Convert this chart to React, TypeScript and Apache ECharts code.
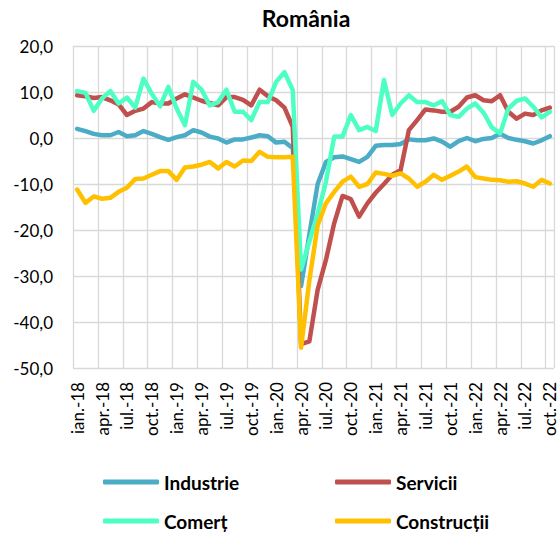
import React, { useEffect, useRef } from "react";
import * as echarts from "echarts";

const monthNames = ["ian.", "feb.", "mar.", "apr.", "mai", "iun.", "iul.", "aug.", "sep.", "oct.", "nov.", "dec."];
const years = ["18", "19", "20", "21", "22"];
const categories: string[] = [];
years.forEach((y) => monthNames.forEach((m) => categories.push(`${m}-${y}`)));
categories.splice(58);

const industrie = [
  2.0, 1.5, 0.9, 0.6, 0.6, 1.3, 0.4, 0.6, 1.5, 0.9, 0.2, -0.4,
  0.2, 0.6, 1.7, 1.2, 0.3, -0.1, -1.0, -0.3, -0.3, 0.1, 0.6, 0.4,
  -1.0, -0.8, -2.2, -32.2, -21.0, -10.0, -5.2, -4.2, -4.0, -4.6, -5.2, -4.1,
  -1.7, -1.5, -1.5, -1.3, -0.3, -0.5, -0.5, -0.1, -0.8, -1.9, -0.7, 0.0,
  -0.7, -0.2, 0.0, 0.9, 0.0, -0.4, -0.7, -1.2, -0.5, 0.4,
];
const servicii = [
  9.3, 9.1, 8.7, 8.9, 8.2, 7.3, 5.0, 5.9, 6.4, 7.8, 7.5, 7.5,
  8.6, 9.5, 8.8, 8.1, 7.6, 7.1, 8.9, 8.9, 8.3, 7.1, 10.5, 9.1,
  8.2, 6.6, 2.4, -44.8, -44.2, -33.0, -26.5, -18.5, -12.6, -13.3, -17.1, -14.2,
  -11.9, -10.0, -8.0, -7.0, 1.7, 3.9, 6.2, 6.0, 5.7, 5.7, 6.8, 8.8,
  9.3, 8.2, 8.0, 9.3, 5.7, 4.2, 5.3, 5.0, 6.0, 6.6,
];
const comert = [
  10.2, 9.8, 5.9, 8.6, 10.2, 7.5, 8.8, 6.6, 12.9, 9.6, 6.9, 11.1,
  6.4, 2.8, 12.2, 10.5, 7.1, 7.8, 10.5, 5.7, 5.7, 3.9, 7.8, 7.8,
  12.2, 14.3, 10.4, -28.6, -22.5, -16.5, -9.5, 0.3, 0.3, 5.0, 1.7, 2.4,
  1.5, 12.6, 5.0, 7.5, 9.3, 7.8, 7.8, 7.1, 8.0, 5.0, 4.6, 6.4,
  7.5, 5.5, 2.3, 1.0, 6.4, 8.1, 8.6, 6.8, 4.5, 5.7,
];
const constructii = [
  -11.2, -14.1, -12.7, -13.2, -13.0, -11.7, -10.8, -8.9, -8.8, -8.0, -7.2, -7.2,
  -9.1, -6.4, -6.2, -5.8, -5.2, -6.6, -5.2, -6.2, -4.9, -5.0, -3.0, -4.1,
  -4.2, -4.2, -4.1, -45.6, -31.0, -19.0, -14.2, -11.7, -9.5, -8.4, -10.6, -10.0,
  -7.5, -7.8, -8.2, -7.7, -8.8, -10.6, -9.5, -8.0, -9.1, -8.2, -7.3, -6.2,
  -8.5, -8.8, -9.1, -9.2, -9.5, -9.4, -9.9, -10.6, -9.1, -9.9,
];

const seriesNames = ["Industrie", "Servicii", "Comerț", "Construcții"];
const seriesColors = ["#4BACC6", "#C0504D", "#4DFFC3", "#FFC000"];
const seriesData = [industrie, servicii, comert, constructii];

const FONT = "Lato, 'Noto Sans', sans-serif";

export default function App() {
  const ref = useRef<HTMLDivElement>(null);
  useEffect(() => {
    if (!ref.current) return;
    const chart = echarts.init(ref.current, null, { renderer: "svg" });
    const legendText = { fontFamily: FONT, fontSize: 19, fontWeight: "bold" as const, color: "#000", lineHeight: 20 };
    const legendBase = {
      orient: "vertical",
      top: 472,
      height: 64,
      padding: 0,
      itemWidth: 56,
      itemHeight: 5,
      itemGap: 19,
      icon: "roundRect",
      textStyle: legendText,
    };
    chart.setOption({
      animation: false,
      backgroundColor: "#fff",
      graphic: [
        {
          type: "text",
          x: 306,
          y: 18,
          style: {
            text: "România",
            fontFamily: FONT,
            fontSize: 23,
            fontWeight: "bold",
            fill: "#000",
            textAlign: "center",
            textVerticalAlign: "middle",
          },
        },
      ],
      legend: [
        { ...legendBase, data: ["Industrie", "Comerț"], left: 103 },
        { ...legendBase, data: ["Servicii", "Construcții"], left: 335 },
      ],
      grid: { left: 73, right: 6, top: 46, bottom: 172, containLabel: false },
      xAxis: {
        type: "category",
        data: categories,
        boundaryGap: true,
        axisLine: { show: false },
        axisTick: { show: false },
        axisLabel: {
          interval: 2,
          rotate: 90,
          margin: 14,
          fontFamily: FONT,
          fontSize: 17,
          lineHeight: 14,
          color: "#000",
        },
        splitLine: { show: true, interval: 2, lineStyle: { color: "#d9d9d9", width: 1.3 } },
      },
      yAxis: {
        type: "value",
        min: -50,
        max: 20,
        interval: 10,
        axisLine: { show: false },
        axisTick: { show: false },
        axisLabel: {
          margin: 20,
          fontFamily: FONT,
          fontSize: 17,
          color: "#000",
          formatter: (v: number) => v.toFixed(1).replace(".", ","),
        },
        splitLine: { show: true, lineStyle: { color: "#d9d9d9", width: 1.3 } },
      },
      series: seriesNames.map((name, i) => ({
        name,
        type: "line",
        data: seriesData[i],
        symbol: "none",
        showSymbol: false,
        itemStyle: { color: seriesColors[i] },
        lineStyle: { color: seriesColors[i], width: 4.5, join: "round", cap: "round" },
      })),
    });
    return () => chart.dispose();
  }, []);
  return <div ref={ref} style={{ position: "fixed", left: 0, top: 0, width: 560, height: 540 }} />;
}
